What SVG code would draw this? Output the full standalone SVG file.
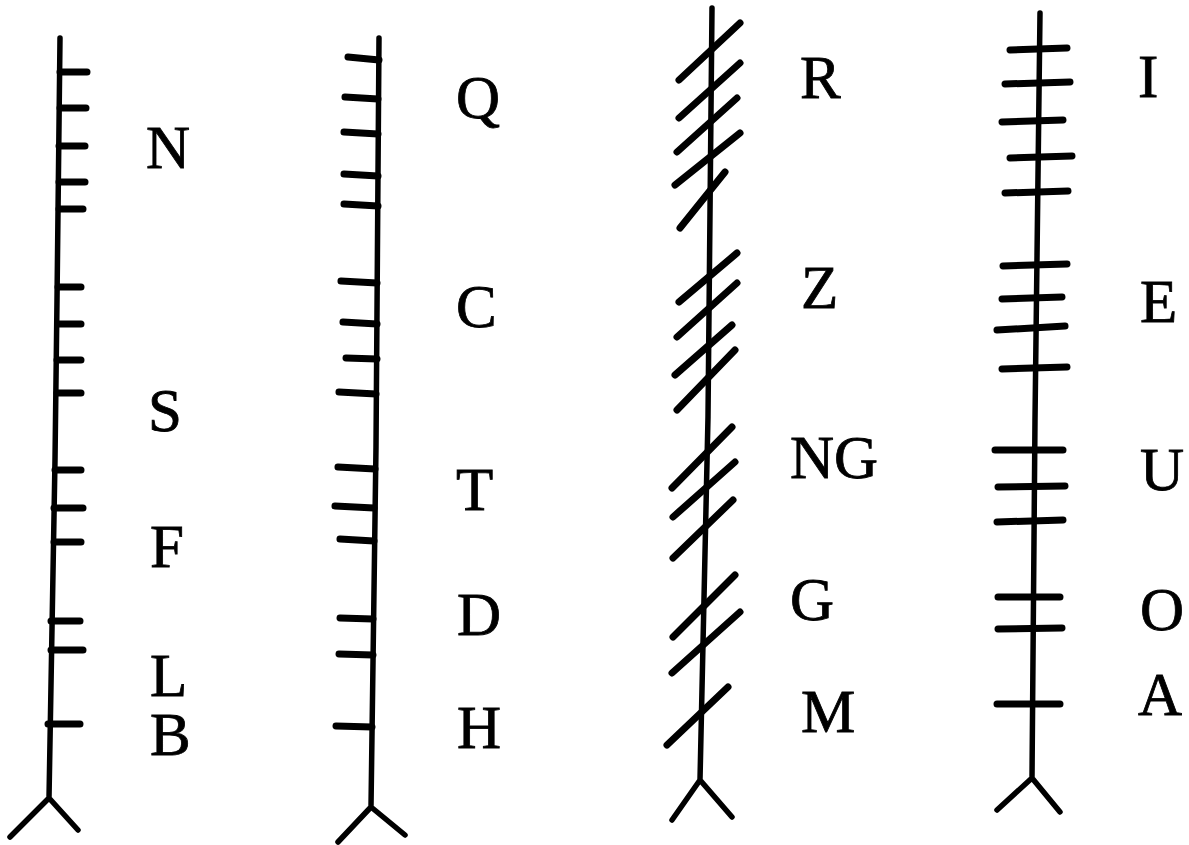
<svg xmlns="http://www.w3.org/2000/svg" width="1189" height="845" viewBox="0 0 1189 845">
<style>
.stem{fill:none;stroke:#000;stroke-width:5.5;stroke-linecap:round;stroke-linejoin:round}
.sc{fill:none;stroke:#000;stroke-width:7;stroke-linecap:round}
.lbl{font-family:"Liberation Serif","Times New Roman",serif;font-size:61px;fill:#000;stroke:#000;stroke-width:0.8}
</style>
<rect width="1189" height="845" fill="#fff"/>
<g id="stem-b-aicme">
<path class="stem" d="M60,38 L57,300 L55,460 L49,798 M10,837 L49,798 L78,830"/>
<path class="sc" d="M60,72 L87,72 M60,108 L86,108 M59,146 L85,146 M59,182 L85,182 M59,209 L83,209 M58,287 L81,287 M58,324 L81,324 M57,360 L81,360 M57,393 L81,393 M55,470 L81,470 M54,508 L83,508 M54,542 L81,542 M51,621 L80,621 M51,650 L83,650 M48,724 L80,724"/>
<text class="lbl" x="146" y="168">N</text>
<text class="lbl" x="148" y="431">S</text>
<text class="lbl" x="150" y="567">F</text>
<text class="lbl" x="150" y="696">L</text>
<text class="lbl" x="150" y="755">B</text>
</g>
<g id="stem-h-aicme">
<path class="stem" d="M379,38 L376,447 L371,807 M338,842 L371,807 L405,835"/>
<path class="sc" d="M348,57 L379,60 M345,97 L378,99 M344,132 L378,134 M344,174 L378,176 M344,204 L378,206 M341,281 L377,283 M343,322 L377,324 M346,358 L377,359 M339,392 L376,394 M338,467 L375,469 M335,506 L374,508 M340,539 L374,541 M340,618 L373,619 M339,654 L373,655 M336,726 L372,727"/>
<text class="lbl" x="456" y="118">Q</text>
<text class="lbl" x="456" y="327">C</text>
<text class="lbl" x="456" y="510">T</text>
<text class="lbl" x="457" y="635">D</text>
<text class="lbl" x="457" y="748">H</text>
</g>
<g id="stem-m-aicme">
<path class="stem" d="M712,8 L708,417 L700,780 M672,820 L700,780 L732,817"/>
<path class="sc" d="M740,23 L679,80 M740,63 L679,118 M737,98 L677,152 M740,133 L675,185 M725,172 L680,228 M737,253 L679,302 M737,283 L677,337 M732,325 L675,375 M735,350 L677,410 M732,427 L672,488 M735,462 L673,517 M733,500 L673,558 M735,575 L673,637 M740,612 L672,673 M728,687 L667,745"/>
<text class="lbl" x="800" y="98">R</text>
<text class="lbl" x="801" y="308">Z</text>
<text class="lbl" x="790" y="478">NG</text>
<text class="lbl" x="790" y="620">G</text>
<text class="lbl" x="801" y="732">M</text>
</g>
<g id="stem-a-aicme">
<path class="stem" d="M1040,13 L1035,420 L1032,778 M997,810 L1032,778 L1060,812"/>
<path class="sc" d="M1010,50 L1067,48 M1005,84 L1070,82 M1002,122 L1063,120 M1010,158 L1072,156 M1005,193 L1068,191 M1003,266 L1067,264 M1002,299 L1062,297 M997,330 L1065,326 M1002,369 L1067,367 M995,450 L1063,450 M998,487 L1065,486 M997,522 L1063,520 M998,597 L1060,597 M998,629 L1062,628 M997,704 L1060,704"/>
<text class="lbl" x="1138" y="97">I</text>
<text class="lbl" x="1140" y="322">E</text>
<text class="lbl" x="1140" y="490">U</text>
<text class="lbl" x="1140" y="630">O</text>
<text class="lbl" x="1138" y="715">A</text>
</g>
</svg>
